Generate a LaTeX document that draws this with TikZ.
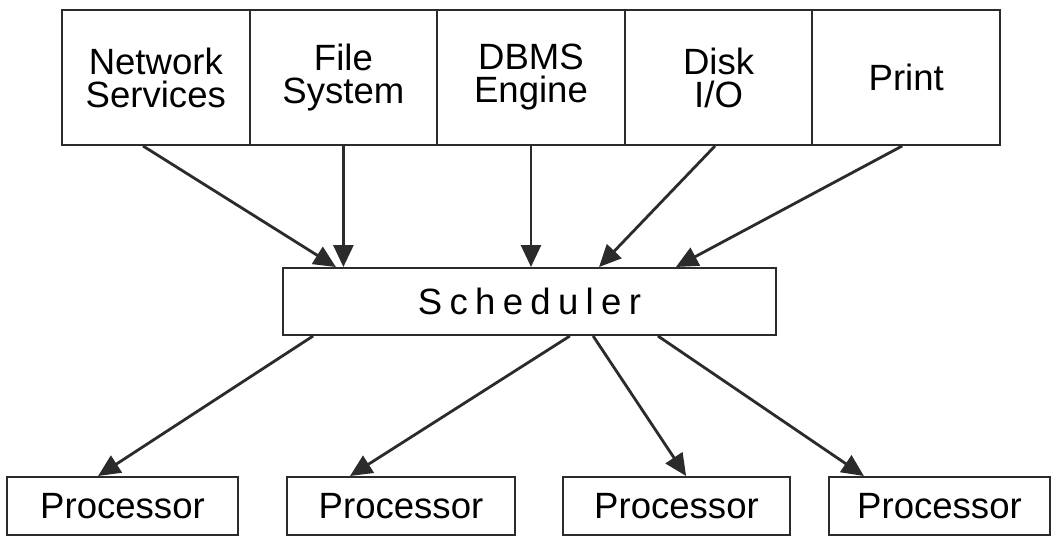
\documentclass[tikz,border=0pt]{standalone}
\usepackage{fontspec}
\setmainfont{Liberation Sans}
\newfontfamily\spacedfont[LetterSpace=20]{Liberation Sans}
\usetikzlibrary{arrows.meta}
\definecolor{ink}{HTML}{2b2b2b}

\begin{document}
\begin{tikzpicture}[
    font=\fontsize{26}{23.5}\selectfont,
    box/.style={draw=ink, line width=1.4pt, align=center, inner sep=0pt},
    arr/.style={draw=ink, line width=2pt, -{Triangle[length=0.55cm,width=0.5cm]}}
]
    \useasboundingbox (0,0) rectangle (26.4,13.4);
    \def\topw{4.69cm}
    \def\toph{3.375cm}
    \def\proch{1.45cm}

    % services on top
    \node[box, minimum width=\topw, minimum height=\toph] (net) at (3.895,11.4625) {Network\\Services};
    \node[box, minimum width=\topw, minimum height=\toph] (file) at (8.585,11.4625) {File\\System};
    \node[box, minimum width=\topw, minimum height=\toph] (dbms) at (13.275,11.4625) {DBMS\\Engine};
    \node[box, minimum width=\topw, minimum height=\toph] (disk) at (17.965,11.4625) {Disk\\I/O};
    \node[box, minimum width=\topw, minimum height=\toph] (print) at (22.655,11.4625) {Print};

    \node[box, minimum width=12.325cm, minimum height=1.675cm] (sched) at (13.2375,5.8625) {\spacedfont Scheduler};

    % processors
    \node[box, minimum width=5.775cm, minimum height=\proch] (proc1) at (3.0625,0.75) {Processor};
    \node[box, minimum width=5.7cm, minimum height=\proch] (proc2) at (10.025,0.75) {Processor};
    \node[box, minimum width=5.675cm, minimum height=\proch] (proc3) at (16.9125,0.75) {Processor};
    \node[box, minimum width=5.525cm, minimum height=\proch] (proc4) at (23.4875,0.75) {Processor};

    \draw[arr] ([xshift=-0.32cm]net.south) -- ([xshift=-4.84cm]sched.north);
    \draw[arr] (file.south) -- (file.south |- sched.north);
    \draw[arr] (dbms.south) -- (dbms.south |- sched.north);
    \draw[arr] ([xshift=-0.09cm]disk.south) -- ([xshift=1.74cm]sched.north);
    \draw[arr] ([xshift=-0.1cm]print.south) -- ([xshift=3.66cm]sched.north);

    \draw[arr] ([xshift=-5.41cm]sched.south) -- ([xshift=-0.61cm]proc1.north);
    \draw[arr] ([xshift=1.01cm]sched.south) -- ([xshift=-1.275cm]proc2.north);
    \draw[arr] ([xshift=1.59cm]sched.south) -- ([xshift=0.24cm]proc3.north);
    \draw[arr] ([xshift=3.21cm]sched.south) -- ([xshift=-1.89cm]proc4.north);
\end{tikzpicture}
\end{document}
